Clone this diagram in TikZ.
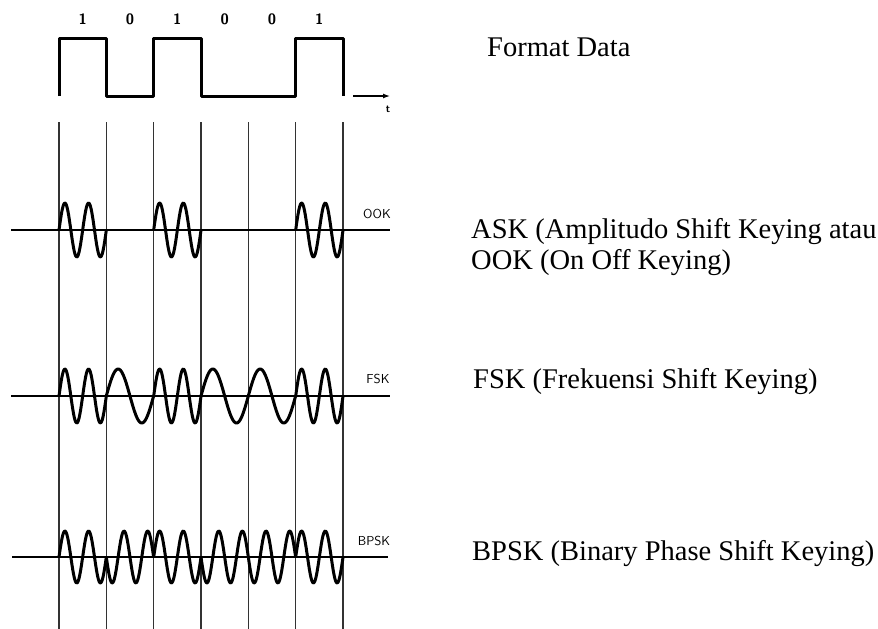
\documentclass[tikz,border=0pt]{standalone}
\usepackage{fontspec}
\setmainfont{Liberation Serif}
\usetikzlibrary{arrows.meta}

\begin{document}
\begin{tikzpicture}[x=1pt,y=-1pt,
  wave/.style={line width=3pt, line join=round},
  axisline/.style={line width=2.4pt},
  gridline/.style={black!80, line width=1.1pt},
  desc/.style={font=\fontsize{28.5}{31}\selectfont, anchor=west, inner sep=0pt, align=left},
  tag/.style={font=\sffamily\fontsize{13}{13}\selectfont, inner sep=0pt},
  bitlbl/.style={font=\sffamily\bfseries\fontsize{15}{15}\selectfont, inner sep=0pt}]
\useasboundingbox (0,0) rectangle (878,629);
% bit values
\node[bitlbl] (b1) at (82.7,19) {1};
\node[bitlbl] (b2) at (130,19) {0};
\node[bitlbl] (b3) at (177.3,19) {1};
\node[bitlbl] (b4) at (224.7,19) {0};
\node[bitlbl] (b5) at (272,19) {0};
\node[bitlbl] (b6) at (319.3,19) {1};
% data signal
\draw[wave] (59,96) -- (59,38) -- (106.3,38) -- (106.3,96) -- (153.7,96) -- (153.7,38)
  -- (201,38) -- (201,96) -- (295.7,96) -- (295.7,38) -- (343,38) -- (343,96);
\coordinate (tstart) at (353,96);
\coordinate (tend) at (390,96);
\draw[line width=1.3pt, -{Latex[length=7pt,width=5pt]}] (tstart) -- (tend);
\node[tag, font=\sffamily\bfseries\fontsize{11}{11}\selectfont] (tlbl) at (388,109) {t};
% bit boundaries
\draw[gridline] (59,122) -- (59,629);
\draw[gridline] (106.3,122) -- (106.3,629);
\draw[gridline] (153.7,122) -- (153.7,629);
\draw[gridline] (201,122) -- (201,629);
\draw[gridline] (248.3,122) -- (248.3,629);
\draw[gridline] (295.7,122) -- (295.7,629);
\draw[gridline] (343,122) -- (343,629);
% OOK
\draw[axisline] (11,230) -- (390,230);
\draw[wave] plot[domain=0:1, samples=60] ({59+47.33*\x},{230-27*sin(720*\x)});
\draw[wave] plot[domain=0:1, samples=60] ({153.7+47.33*\x},{230-27*sin(720*\x)});
\draw[wave] plot[domain=0:1, samples=60] ({295.7+47.33*\x},{230-27*sin(720*\x)});
\node[tag] (ook) at (377,214) {OOK};
% FSK
\draw[axisline] (11,396) -- (390,396);
\draw[wave] plot[domain=0:1, samples=60] ({59+47.33*\x},{396-27*sin(720*\x)});
\draw[wave] plot[domain=0:1, samples=60] ({106.3+47.33*\x},{396-27*sin(360*\x)});
\draw[wave] plot[domain=0:1, samples=60] ({153.7+47.33*\x},{396-27*sin(720*\x)});
\draw[wave] plot[domain=0:1, samples=60] ({201+47.33*\x},{396-27*sin(360*\x)});
\draw[wave] plot[domain=0:1, samples=60] ({248.3+47.33*\x},{396-27*sin(360*\x)});
\draw[wave] plot[domain=0:1, samples=60] ({295.7+47.33*\x},{396-27*sin(720*\x)});
\node[tag] (fsk) at (378,379) {FSK};
% BPSK
\draw[axisline] (12,557) -- (388,557);
\draw[wave] plot[domain=0:1, samples=60] ({59+47.33*\x},{557-26*sin(720*\x)});
\draw[wave] plot[domain=0:1, samples=60] ({106.3+47.33*\x},{557+26*sin(720*\x)});
\draw[wave] plot[domain=0:1, samples=60] ({153.7+47.33*\x},{557-26*sin(720*\x)});
\draw[wave] plot[domain=0:1, samples=60] ({201+47.33*\x},{557+26*sin(720*\x)});
\draw[wave] plot[domain=0:1, samples=60] ({248.3+47.33*\x},{557+26*sin(720*\x)});
\draw[wave] plot[domain=0:1, samples=60] ({295.7+47.33*\x},{557-26*sin(720*\x)});
\node[tag] (bpsk) at (374,541) {BPSK};
% descriptions
\node[desc] (dataname) at (487,47) {Format Data};
\node[desc] (askname) at (471,247) {ASK (Amplitudo Shift Keying atau\\OOK (On Off Keying)};
\node[desc] (fskname) at (473,382) {FSK (Frekuensi Shift Keying)};
\node[desc] (bpskname) at (472,554) {BPSK (Binary Phase Shift Keying)};
\end{tikzpicture}
\end{document}
